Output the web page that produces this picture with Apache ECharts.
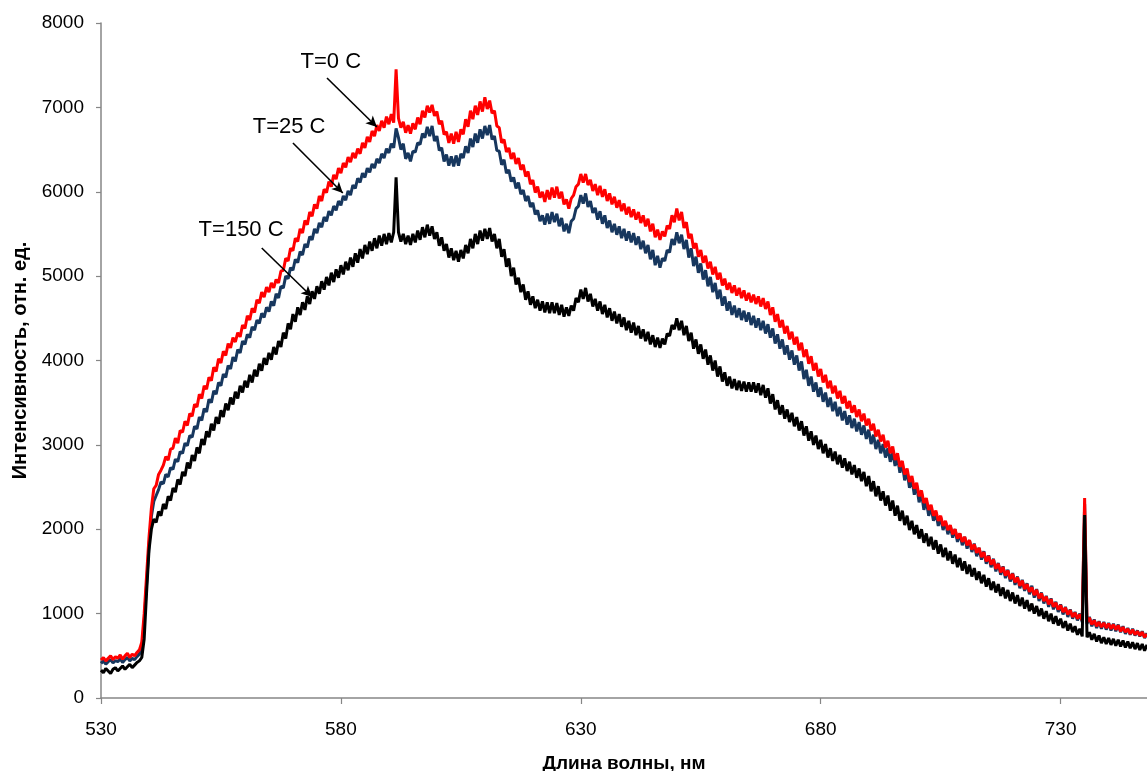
<!DOCTYPE html>
<html>
<head>
<meta charset="utf-8">
<title>Спектры интенсивности</title>
<script src="https://cdn.jsdelivr.net/npm/echarts@6/dist/echarts.min.js"></script>
<style>
  html, body { margin: 0; padding: 0; background: #fff; }
  #chart { width: 1147px; height: 771px; }
</style>
</head>
<body>
<div id="chart"></div>
<script>
// Wavelength grid of the spectrometer: 530 nm upward in 0.5 nm steps
const WL_START = 530;
const WL_STEP = 0.5;

// Intensity, T = 0 C (one row = 5 nm)
const T0 = [
  450,480,440,470,500,455,490,470,510,460,
  500,530,480,520,500,540,570,660,1000,1450,
  1900,2250,2480,2520,2650,2700,2760,2860,2820,2950,
  2960,3080,3020,3170,3150,3280,3230,3370,3340,3480,
  3450,3600,3550,3700,3660,3800,3760,3920,3870,4020,
  3970,4110,4060,4200,4150,4270,4220,4330,4280,4420,
  4380,4530,4480,4620,4570,4720,4680,4810,4750,4870,
  4810,4920,4860,4960,4920,5060,5070,5210,5180,5330,
  5300,5450,5410,5560,5510,5660,5610,5760,5710,5850,
  5800,5950,5890,6030,5990,6120,6060,6200,6150,6280,
  6220,6340,6290,6410,6350,6460,6400,6510,6450,6580,
  6520,6650,6590,6720,6660,6790,6720,6840,6760,6890,
  6800,6920,6820,7450,6870,6760,6830,6700,6790,6690,
  6810,6740,6880,6800,6960,6880,7020,6940,7030,6900,
  6950,6800,6840,6680,6710,6580,6690,6570,6710,6590,
  6740,6680,6860,6770,6960,6860,7020,6910,7070,6950,
  7120,6980,7080,6930,6960,6780,6760,6580,6620,6470,
  6520,6390,6460,6330,6400,6260,6320,6180,6240,6090,
  6140,5990,6060,5930,6000,5880,6020,5910,6050,5930,
  6060,5920,6000,5850,5910,5800,5920,5960,6060,6090,
  6210,6110,6210,6080,6140,6010,6090,5960,6070,5940,
  6030,5890,5980,5850,5940,5810,5900,5770,5860,5730,
  5820,5700,5790,5670,5760,5630,5720,5590,5680,5530,
  5620,5460,5550,5430,5530,5470,5600,5560,5720,5640,
  5800,5660,5760,5570,5640,5450,5500,5330,5390,5230,
  5310,5160,5240,5090,5170,5020,5110,4960,5040,4890,
  4970,4840,4920,4800,4890,4770,4860,4740,4830,4710,
  4800,4690,4780,4670,4760,4640,4740,4610,4700,4540,
  4630,4460,4550,4390,4480,4320,4410,4250,4340,4190,
  4280,4120,4210,4040,4130,3960,4050,3880,3970,3810,
  3900,3740,3830,3670,3760,3610,3700,3550,3640,3490,
  3580,3430,3520,3380,3470,3330,3420,3280,3370,3230,
  3310,3170,3250,3100,3180,3040,3120,2970,3050,2900,
  2980,2820,2900,2740,2810,2650,2720,2560,2630,2480,
  2550,2390,2460,2310,2370,2230,2290,2160,2220,2100,
  2160,2040,2100,1990,2050,1940,2000,1890,1950,1850,
  1910,1810,1870,1760,1820,1720,1780,1670,1730,1620,
  1680,1580,1640,1530,1590,1490,1550,1450,1510,1410,
  1470,1370,1430,1330,1390,1290,1350,1260,1310,1220,
  1280,1180,1240,1150,1200,1110,1170,1080,1130,1050,
  1100,1020,1070,990,1040,960,1010,940,990,920,
  2370,900,950,870,920,850,900,840,890,830,
  880,820,870,810,860,790,840,780,820,760,
  810,750,790,740,780,720,760
];

// Intensity, T = 25 C
const T25 = [
  410,440,400,430,455,415,445,430,465,420,
  455,480,440,470,455,490,520,600,900,1350,
  1800,2150,2330,2400,2470,2560,2540,2650,2620,2730,
  2710,2830,2800,2920,2900,3020,2990,3110,3090,3220,
  3190,3330,3290,3430,3390,3540,3500,3640,3600,3740,
  3700,3840,3800,3940,3900,4040,3990,4130,4090,4230,
  4190,4310,4270,4400,4360,4480,4440,4560,4510,4630,
  4580,4700,4650,4790,4740,4880,4860,5000,4970,5100,
  5070,5200,5160,5290,5250,5380,5340,5470,5430,5560,
  5510,5630,5580,5700,5650,5770,5720,5830,5780,5890,
  5840,5950,5900,6010,5960,6080,6040,6160,6110,6220,
  6170,6280,6230,6330,6280,6390,6340,6450,6400,6510,
  6460,6570,6520,6750,6640,6500,6570,6390,6460,6360,
  6480,6470,6580,6560,6690,6640,6770,6660,6780,6600,
  6660,6490,6520,6360,6440,6310,6420,6300,6430,6310,
  6450,6400,6540,6460,6630,6530,6690,6580,6740,6630,
  6780,6670,6790,6620,6660,6490,6480,6320,6380,6220,
  6260,6120,6170,6040,6110,5970,6020,5890,5950,5820,
  5870,5730,5780,5650,5720,5610,5740,5620,5760,5640,
  5740,5590,5690,5530,5620,5510,5650,5680,5800,5830,
  5960,5860,5980,5820,5890,5750,5810,5670,5770,5620,
  5720,5570,5660,5520,5620,5490,5590,5450,5560,5420,
  5530,5400,5510,5370,5470,5320,5420,5270,5370,5200,
  5310,5130,5240,5100,5210,5180,5310,5280,5440,5370,
  5520,5390,5490,5320,5430,5220,5330,5120,5230,5040,
  5150,4960,5070,4880,4990,4810,4920,4730,4840,4650,
  4760,4590,4700,4540,4650,4510,4620,4480,4590,4460,
  4570,4420,4530,4390,4500,4360,4470,4320,4430,4270,
  4380,4200,4310,4140,4250,4070,4180,4010,4120,3950,
  4060,3880,3990,3780,3890,3700,3810,3630,3740,3570,
  3680,3510,3620,3450,3560,3400,3510,3340,3450,3290,
  3400,3240,3350,3200,3310,3160,3270,3120,3230,3070,
  3180,3010,3120,2950,3060,2900,3010,2850,2960,2800,
  2910,2750,2860,2670,2780,2580,2690,2490,2600,2410,
  2520,2320,2430,2230,2340,2160,2260,2100,2200,2040,
  2140,1990,2090,1940,2040,1900,2000,1850,1950,1810,
  1910,1770,1870,1730,1830,1680,1780,1640,1740,1590,
  1690,1550,1650,1500,1600,1460,1560,1420,1520,1380,
  1480,1340,1440,1300,1400,1270,1360,1230,1330,1190,
  1290,1150,1250,1120,1210,1080,1180,1050,1140,1020,
  1110,990,1080,960,1050,940,1020,920,1000,900,
  2300,880,960,850,930,830,910,820,900,810,
  890,800,880,790,870,780,850,760,830,750,
  820,740,800,730,790,710,770
];

// Intensity, T = 150 C
const T150 = [
  330,300,350,320,290,340,360,320,350,380,
  340,370,400,360,390,420,440,480,700,1250,
  1750,2000,2120,2080,2210,2160,2300,2240,2390,2340,
  2490,2440,2590,2530,2680,2630,2790,2720,2880,2810,
  2970,2900,3070,3000,3160,3090,3250,3170,3330,3250,
  3410,3330,3490,3410,3560,3480,3630,3550,3700,3620,
  3760,3680,3830,3740,3890,3810,3960,3880,4030,3950,
  4090,4010,4160,4070,4230,4160,4330,4260,4440,4370,
  4550,4460,4630,4540,4690,4600,4760,4670,4820,4730,
  4880,4790,4940,4840,4990,4890,5040,4930,5080,4980,
  5130,5020,5170,5070,5220,5110,5270,5160,5320,5210,
  5370,5260,5410,5300,5450,5330,5480,5360,5500,5380,
  5510,5400,5520,6170,5520,5410,5500,5380,5480,5370,
  5500,5400,5540,5430,5580,5460,5610,5480,5590,5440,
  5520,5360,5460,5300,5380,5220,5330,5190,5300,5170,
  5310,5210,5370,5270,5440,5330,5500,5380,5540,5420,
  5560,5440,5570,5410,5500,5330,5440,5230,5320,5110,
  5210,5000,5100,4900,4980,4810,4900,4720,4820,4660,
  4760,4620,4720,4590,4700,4570,4690,4560,4690,4560,
  4680,4540,4660,4520,4630,4530,4650,4590,4740,4690,
  4840,4730,4860,4700,4790,4640,4730,4590,4700,4550,
  4660,4510,4620,4470,4580,4440,4550,4400,4510,4360,
  4470,4330,4450,4300,4410,4260,4370,4230,4340,4190,
  4300,4160,4270,4150,4260,4190,4320,4290,4420,4370,
  4500,4360,4470,4300,4410,4230,4330,4140,4250,4080,
  4190,4020,4130,3950,4060,3880,4000,3810,3930,3750,
  3860,3700,3810,3670,3780,3650,3760,3640,3750,3630,
  3740,3630,3740,3620,3730,3590,3710,3560,3670,3490,
  3600,3420,3530,3360,3470,3310,3420,3270,3380,3220,
  3330,3170,3280,3110,3220,3050,3160,3000,3110,2950,
  3060,2900,3010,2850,2960,2810,2920,2770,2880,2730,
  2840,2690,2800,2650,2760,2610,2720,2570,2680,2510,
  2630,2450,2570,2390,2510,2340,2450,2280,2400,2220,
  2340,2160,2280,2100,2220,2050,2160,1990,2100,1940,
  2050,1890,2000,1840,1950,1800,1910,1760,1870,1710,
  1820,1670,1780,1630,1740,1590,1700,1550,1660,1510,
  1620,1470,1580,1440,1540,1400,1500,1360,1460,1320,
  1420,1280,1380,1250,1350,1210,1310,1180,1280,1150,
  1250,1120,1220,1090,1190,1060,1160,1030,1120,1000,
  1090,970,1060,940,1030,910,1000,880,970,860,
  940,830,910,800,880,780,850,750,820,730,
  2170,720,780,690,760,670,740,650,720,640,
  710,630,700,620,690,610,680,600,670,590,
  660,580,650,570,640,560,630
];

// Axis ticks
const X_TICKS = [530, 580, 630, 680, 730];
const X_MIN = 530;
const X_MAX = 748;
const Y_MAX = 8000;
const Y_STEP = 1000;

// Curve captions and their pointer arrows (data coordinates)
const CAPTIONS = ['T=0 C', 'T=25 C', 'T=150 C'];
const CAPTION_AT = [[577.9, 7538], [569.2, 6767], [559.2, 5547]];
const ARROW_FROM = [[577.1, 7348], [570.0, 6578], [563.5, 5333]];
const ARROW_TO = [[587.5, 6767], [580.4, 5985], [574.0, 4753]];

const FONT = "'Liberation Sans', Arial, sans-serif";

function toPairs(values) {
  return values.map((v, i) => [WL_START + i * WL_STEP, v]);
}

function annotation(k) {
  return {
    markLine: {
      silent: true,
      animation: false,
      symbol: ['none', 'arrow'],
      symbolSize: [8, 11],
      label: { show: false },
      emphasis: { disabled: true },
      lineStyle: { color: '#000', width: 1.6, type: 'solid' },
      itemStyle: { color: '#000' },
      data: [[{ coord: ARROW_FROM[k] }, { coord: ARROW_TO[k] }]]
    },
    markPoint: {
      silent: true,
      animation: false,
      symbol: 'circle',
      symbolSize: 1,
      itemStyle: { color: 'rgba(0,0,0,0)' },
      label: {
        show: true,
        position: 'inside',
        formatter: CAPTIONS[k],
        color: '#000',
        fontSize: 22,
        fontFamily: FONT
      },
      data: [{ coord: CAPTION_AT[k] }]
    }
  };
}

function lineSeries(name, values, color, k) {
  return Object.assign({
    name: name,
    type: 'line',
    data: toPairs(values),
    showSymbol: false,
    symbol: 'none',
    sampling: null,
    animation: false,
    lineStyle: { color: color, width: 3 },
    itemStyle: { color: color },
    emphasis: { disabled: true }
  }, annotation(k));
}

const chart = echarts.init(document.getElementById('chart'), null, { renderer: 'canvas' });

chart.setOption({
  backgroundColor: '#fff',
  animation: false,
  grid: { left: 101, right: 0, top: 23, bottom: 73, containLabel: false, outerBoundsMode: 'none' },
  xAxis: {
    type: 'value',
    min: X_MIN,
    max: X_MAX,
    name: 'Длина волны, нм',
    nameLocation: 'middle',
    nameGap: 56,
    nameTextStyle: { fontFamily: FONT, fontSize: 19, fontWeight: 'bold', color: '#000' },
    axisLine: { show: true, lineStyle: { color: '#868686', width: 1.5 } },
    axisTick: { show: true, inside: false, length: 6, customValues: X_TICKS, lineStyle: { color: '#868686', width: 1.2 } },
    axisLabel: { customValues: X_TICKS, margin: 22, fontFamily: FONT, fontSize: 19, color: '#000' },
    splitLine: { show: false }
  },
  yAxis: {
    type: 'value',
    min: 0,
    max: Y_MAX,
    interval: Y_STEP,
    name: 'Интенсивность, отн. ед.',
    nameLocation: 'middle',
    nameGap: 71,
    nameRotate: 90,
    nameTextStyle: { fontFamily: FONT, fontSize: 20, fontWeight: 'bold', color: '#000' },
    axisLine: { show: true, lineStyle: { color: '#868686', width: 1.5 } },
    axisTick: { show: true, inside: false, length: 5, lineStyle: { color: '#868686', width: 1.2 } },
    axisLabel: { margin: 17, fontFamily: FONT, fontSize: 19, color: '#000', formatter: (v) => String(v) },
    splitLine: { show: false }
  },
  series: [
    lineSeries('T=25 C', T25, '#17375e', 1),
    lineSeries('T=0 C', T0, '#ff0000', 0),
    lineSeries('T=150 C', T150, '#000000', 2)
  ]
});
</script>
</body>
</html>
